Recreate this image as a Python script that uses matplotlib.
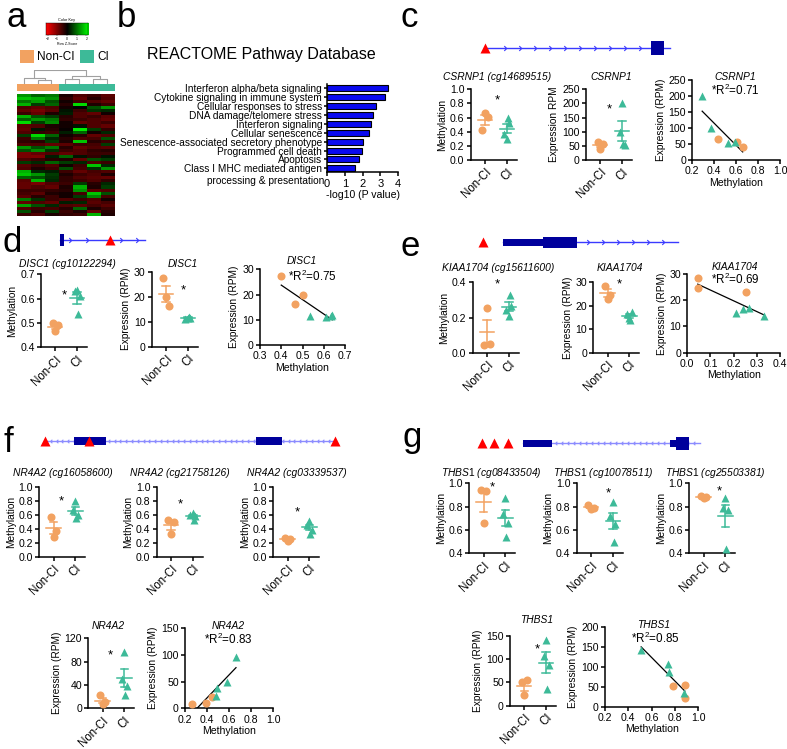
import numpy as np
import matplotlib
matplotlib.use('Agg')
import matplotlib.pyplot as plt
from matplotlib.colors import LinearSegmentedColormap, ListedColormap
from matplotlib.patches import Rectangle
from matplotlib.path import Path

plt.rcParams['font.family'] = ['Liberation Sans', 'DejaVu Sans']
plt.rcParams['mathtext.fontset'] = 'custom'
plt.rcParams['mathtext.rm'] = 'Liberation Sans'
plt.rcParams['mathtext.it'] = 'Liberation Sans:italic'

# ---------------- data ----------------
# panel a: heatmap (row z-scores), 3 Non-CI + 4 CI samples
heat = np.array([
    [1.5, 1.0, 1.2, -0.3, -0.8, -0.6, -0.9],
    [2.0, 1.8, 1.5, -0.5, -1.0, -0.4, -0.8],
    [1.2, 1.6, 0.8, -0.2, -0.6, -0.8, -1.0],
    [1.8, 0.6, 1.0, -0.4, 2.2, -0.3, -0.6],
    [-0.8, -1.0, -0.8, -0.2, 0.0, 0.8, 1.5],
    [-1.0, -1.2, -0.9, 0.2, -0.6, 0.5, 0.4],
    [-0.6, -1.0, -0.3, 0.3, -0.8, -1.0, -0.2],
    [1.8, 0.8, 0.6, -0.4, -0.8, -0.6, -0.9],
    [1.0, 1.5, 1.2, -0.5, -0.6, -0.8, -1.0],
    [2.2, 0.6, 1.4, -0.2, -1.0, -0.8, -0.6],
    [-0.9, -0.8, -0.3, -0.2, 0.2, -0.8, -1.0],
    [-1.0, 0.2, -0.4, -0.1, 2.4, 0.6, -0.5],
    [-0.8, -0.5, -0.6, 0.3, 1.0, -0.2, 0.4],
    [0.6, 2.2, 1.0, -0.2, -0.4, -1.0, -0.8],
    [-0.6, 1.2, 0.4, -0.4, -0.8, -0.7, 0.8],
    [-0.5, -0.4, 0.6, -0.3, 2.0, -0.4, -0.6],
    [-0.8, -0.8, -1.0, -0.9, -0.6, -0.7, 0.6],
    [1.5, 0.8, 1.2, -0.4, -1.0, -0.8, -0.9],
    [0.8, 1.4, 0.5, -0.6, -0.8, -0.5, -0.4],
    [-1.2, -1.0, -0.8, -1.0, -0.8, -0.6, -0.6],
    [-1.2, -1.3, 0.3, 1.0, 0.2, -0.5, 0.2],
    [-0.8, -0.6, -0.4, -0.3, -1.0, 0.8, 0.6],
    [0.6, 0.4, 1.0, 0.6, 0.4, -0.8, -0.6],
    [-0.9, -0.6, -0.8, -0.2, -0.6, 2.0, 0.4],
    [-0.8, -0.3, -0.6, 0.8, -0.7, 0.5, 1.5],
    [1.8, 0.4, 0.3, -0.6, -1.0, -0.7, -0.8],
    [2.0, 1.5, 0.6, -0.3, -0.6, -0.8, -0.3],
    [1.0, 0.8, 0.5, -0.5, -0.8, -0.9, -1.0],
    [-0.9, 1.8, 0.4, -0.5, -0.6, -0.8, -0.5],
    [-1.0, -1.2, -0.8, -0.6, 0.6, -0.4, 0.4],
    [-1.0, -0.8, -1.0, -0.3, 1.8, -0.3, 0.6],
    [-0.6, -0.6, -0.5, -0.4, 1.5, -0.9, -0.8],
    [-0.7, -0.9, -0.3, -0.2, -0.7, 2.0, 0.8],
    [-0.9, -0.4, -0.6, -0.2, 0.6, 1.4, -0.7],
    [1.2, 0.5, -0.6, -0.8, -0.6, -0.8, -0.2],
    [-1.0, -0.8, -1.0, 0.3, 0.4, -0.9, -0.7],
    [1.6, 0.8, 0.4, -0.8, -0.9, -0.7, -0.9],
    [-0.8, -0.6, -0.7, -0.4, 1.0, -0.3, -0.6],
    [0.8, -0.4, 0.6, -0.6, -0.3, -1.0, -0.4],
    [-0.6, -0.8, -0.3, -0.5, -0.6, 1.8, -0.3],
])
sample_group = [0, 0, 0, 1, 1, 1, 1]
# dendrogram: (left, right, height); leaves are sample indices
dendro = ((0, (1, 2, 13), 17), ((3, 4, 15), (5, 6, 15), 25), 40)

# panel b
pathways = ['Interferon alpha/beta signaling', 'Cytokine signaling in immune system',
            'Cellular responses to stress', 'DNA damage/telomere stress',
            'Interferon signaling', 'Cellular senescence',
            'Senescence-associated secretory phenotype', 'Programmed cell death',
            'Apoptosis', 'Class I MHC mediated antigen']
pathway_extra = 'processing & presentation'
neglogp = [3.45, 3.27, 2.74, 2.57, 2.50, 2.38, 2.00, 1.97, 1.78, 1.60]

# panel c: CSRNP1
c_meth_non = [0.43, 0.61, 0.66]
c_meth_ci = [0.29, 0.37, 0.53, 0.59]
c_expr_non = [65, 57, 40]
c_expr_ci = [200, 100, 52, 55]

# panel d: DISC1
d_meth_non = [0.50, 0.49, 0.465]
d_meth_ci = [0.635, 0.63, 0.61, 0.535]
d_expr_non = [27.3, 16.3, 20.0]
d_expr_ci = [11.5, 11.0, 11.6, 12.0]
d_sc_meth_non = [0.40, 0.465, 0.50]
d_sc_meth_ci = [0.535, 0.61, 0.635, 0.64]

# panel e: KIAA1704
e_meth_non = [0.045, 0.048, 0.255]
e_meth_ci = [0.21, 0.24, 0.265, 0.33]
e_expr_non = [28.5, 24.5, 23.0]
e_expr_ci = [15.0, 16.5, 17.2, 14.0]

# panel f: NR4A2
f1_non = [0.57, 0.37, 0.28]
f1_ci = [0.80, 0.67, 0.60, 0.55]
f2_non = [0.52, 0.50, 0.32]
f2_ci = [0.62, 0.60, 0.58, 0.53]
f3_non = [0.27, 0.25, 0.23]
f3_ci = [0.51, 0.45, 0.38, 0.33]
f_expr_non = [22, 10, 8]
f_expr_ci = [96, 50, 39, 23]
f_sc_meth_non = [0.445, 0.388, 0.266]
f_sc_meth_ci = [0.662, 0.578, 0.493, 0.48]

# panel g: THBS1
g1_non = [0.94, 0.93, 0.66]
g1_ci = [0.87, 0.74, 0.66, 0.54]
g2_non = [0.81, 0.79, 0.78]
g2_ci = [0.84, 0.72, 0.65, 0.50]
g3_non = [0.89, 0.88, 0.87]
g3_ci = [0.87, 0.79, 0.77, 0.44]
g_expr_non = [52, 55, 22]
g_expr_ci = [142, 106, 88, 35]
g_sc_meth_non = [0.78, 0.885, 0.885]
g_sc_meth_ci = [0.51, 0.74, 0.75, 0.875]

# gene structures (relative gene coordinates 0-100)
gene_c = dict(line=(0, 100), exons=[(89.6, 96.8, 7)], cpg=[0])
gene_d = dict(line=(0, 100), exons=[(0, 4.7, 6)], cpg=[58.8])
gene_e = dict(line=(10.3, 100), exons=[(10.3, 30.8, 3.5), (30.8, 48.2, 5.5)], cpg=[0])
gene_f = dict(line=(0, 100), exons=[(10.1, 21.1, 4.2), (72.8, 81.6, 4.2)], cpg=[0, 15.3, 100])
gene_g = dict(line=(18.7, 100), exons=[(18.7, 32, 3.5), (86.1, 88.8, 3.5), (88.8, 94.9, 6.5)],
              cpg=[0, 5.8, 12.2])

# ---------------- styling ----------------
ORANGE = '#F2A261'
TEAL = '#3DBA98'
NAVY = '#00009C'
FS_X = 8.3
FS_Y = 7.6
FS_L = 7.3
FS_TI = 7.4

W, H = 787, 749
fig = plt.figure(figsize=(W / 100, H / 100), dpi=100)


def px_axes(x0, y0, x1, y1):
    return fig.add_axes([x0 / W, 1 - y1 / H, (x1 - x0) / W, (y1 - y0) / H])


def style(ax, fx=FS_X, fy=FS_Y):
    for s in ('top', 'right'):
        ax.spines[s].set_visible(False)
    for s in ('left', 'bottom'):
        ax.spines[s].set_linewidth(1.1)
    ax.tick_params(length=3, width=1.1, pad=1.5)
    ax.tick_params(axis='x', labelsize=fx)
    ax.tick_params(axis='y', labelsize=fy)


JIT3 = [-0.12, 0.12, 0.0]
JIT4 = [0.0, -0.11, 0.11, 0.03]


def dotplot(xpx, ytop, ybot, title, tx, ty, ylabel, non, ci, ylim, yticks, fmt, star):
    ax = px_axes(xpx, ytop, xpx + 46, ybot)
    ax.set_xlim(0.35, 2.45)
    ax.set_ylim(ylim)
    for k, (vals, col, mk, jit) in enumerate([(non, ORANGE, 'o', JIT3), (ci, TEAL, '^', JIT4)]):
        vals = np.asarray(vals, float)
        xc = k + 1
        ax.plot(xc + np.asarray(jit[:len(vals)]), vals, ls='none', marker=mk, ms=5.8,
                color=col, mec='none', zorder=3, clip_on=False)
        m = vals.mean()
        se = vals.std(ddof=1) / np.sqrt(len(vals))
        ax.plot([xc - 0.33, xc + 0.33], [m, m], color=col, lw=1.1, zorder=4)
        ax.plot([xc, xc], [m - se, m + se], color=col, lw=1.1, zorder=4)
        for e in (m - se, m + se):
            ax.plot([xc - 0.17, xc + 0.17], [e, e], color=col, lw=1.1, zorder=4)
    style(ax)
    ax.set_xticks([1, 2])
    ax.set_xticklabels(['Non-CI', 'CI'], rotation=45, ha='right', rotation_mode='anchor')
    ax.set_yticks(yticks)
    ax.set_yticklabels([fmt % v for v in yticks])
    ax.set_ylabel(ylabel, fontsize=FS_L, labelpad=2)
    fig.text(tx / W, 1 - ty / H, title, ha='center', va='center', fontsize=FS_TI, style='italic')
    ax.text(star[0], star[1], '*', ha='center', va='center', fontsize=9.5)
    return ax


def scatter(x0, x1, ytop, ybot, title, tx, ty, r2, rx, ry, rha, nm, ne, cm, ce,
            xlim, xticks, ylim, yticks, xlab_pad=1):
    ax = px_axes(x0, ytop, x1, ybot)
    ax.set_xlim(xlim)
    ax.set_ylim(ylim)
    nm, ne, cm, ce = map(lambda v: np.asarray(v, float), (nm, ne, cm, ce))
    am = np.r_[nm, cm]
    ae = np.r_[ne, ce]
    k, b = np.polyfit(am, ae, 1)
    xs = np.array([am.min(), am.max()])
    ax.plot(xs, k * xs + b, color='k', lw=0.9, zorder=2)
    ax.plot(nm, ne, ls='none', marker='o', ms=5.8, color=ORANGE, mec='none', zorder=3, clip_on=False)
    ax.plot(cm, ce, ls='none', marker='^', ms=5.8, color=TEAL, mec='none', zorder=3, clip_on=False)
    style(ax, fx=FS_Y)
    ax.set_xticks(xticks)
    ax.set_xticklabels(['%.1f' % v for v in xticks])
    ax.set_yticks(yticks)
    ax.set_yticklabels(['%d' % v for v in yticks])
    ax.set_xlabel('Methylation', fontsize=FS_L + 0.3, labelpad=xlab_pad)
    ax.set_ylabel('Expression (RPM)', fontsize=FS_L, labelpad=2)
    fig.text(tx / W, 1 - ty / H, title, ha='center', va='center', fontsize=FS_TI, style='italic')
    fig.text(rx / W, 1 - ry / H, r2, ha=rha, va='center', fontsize=8.4)
    return ax


chev_r = Path([(-0.5, 1), (0.5, 0), (-0.5, -1)], [Path.MOVETO, Path.LINETO, Path.LINETO])
chev_l = Path([(0.5, 1), (-0.5, 0), (0.5, -1)], [Path.MOVETO, Path.LINETO, Path.LINETO])


def gene_track(x0, x1, yc, gene, arrows, chev, line_col, ams=3.5):
    ax = px_axes(x0 - 8, yc - 10, x1 + 8, yc + 10)
    pad = 8 / (x1 - x0) * 100
    ax.set_xlim(-pad, 100 + pad)
    ax.set_ylim(-10, 10)
    ax.axis('off')
    ax.plot(gene['line'], [0, 0], color=line_col, lw=1.0, zorder=1)
    ax.plot(arrows, np.zeros(len(arrows)), ls='none', marker=chev, ms=ams, mfc='none',
            mec=line_col, mew=0.8, zorder=1)
    for (s, e, h) in gene['exons']:
        ax.add_patch(Rectangle((s, -h), e - s, 2 * h, facecolor=NAVY, edgecolor='none', zorder=2))
    ax.plot(gene['cpg'], np.zeros(len(gene['cpg'])), ls='none', marker='^', ms=7.5,
            color='red', mec='none', zorder=5, clip_on=False)
    return ax


# ---------------- panel labels ----------------
for lab, x, y in [('a', 6, 27), ('b', 117, 27), ('c', 401, 27), ('d', 3, 252),
                  ('e', 400, 256), ('f', 3, 452), ('g', 402, 447)]:
    fig.text(x / W, 1 - y / H, lab, fontsize=25, va='baseline', ha='left')

# ---------------- panel a ----------------
rg = LinearSegmentedColormap.from_list('rg', ['#FF0000', '#000000', '#00FF00'])
axk = px_axes(45.7, 22.7, 88.3, 35)
axk.imshow(np.linspace(-2, 2, 100)[None, :], aspect='auto', extent=(-2.2, 2.2, 0, 1), cmap=rg)
axk.set_xlim(-2.2, 2.2)
axk.set_yticks([])
axk.set_xticks([-2, -1, 0, 1, 2])
axk.tick_params(labelsize=2.5, length=1, width=0.3, pad=0.5)
for s in axk.spines.values():
    s.set_linewidth(0.3)
axk.set_title('Color Key', fontsize=2.8, pad=1)
axk.set_xlabel('Row Z-Score', fontsize=2.5, labelpad=0.5)

fig.patches.append(Rectangle((20 / W, 1 - 63 / H), 13.5 / W, 13.5 / H, transform=fig.transFigure,
                             facecolor=ORANGE, edgecolor='none'))
fig.text(37 / W, 1 - 56.5 / H, 'Non-CI', fontsize=8.5, va='center')
fig.patches.append(Rectangle((80 / W, 1 - 63 / H), 13.5 / W, 13.5 / H, transform=fig.transFigure,
                             facecolor=TEAL, edgecolor='none'))
fig.text(97.5 / W, 1 - 56.5 / H, 'CI', fontsize=8.5, va='center')

axd = px_axes(16.7, 70, 114, 84.3)
axd.set_xlim(-0.5, 6.5)
axd.set_ylim(0, 41)
axd.axis('off')


def draw_node(node):
    if isinstance(node, int):
        return float(node), 0.0
    l, r, h = node
    xl, hl = draw_node(l)
    xr, hr = draw_node(r)
    axd.plot([xl, xl, xr, xr], [hl, h, h, hr], color='#A0A0A0', lw=0.8)
    return (xl + xr) / 2, h


draw_node(dendro)

axg = px_axes(16.7, 84.3, 114, 91)
axg.imshow(np.array(sample_group)[None, :], aspect='auto', cmap=ListedColormap([ORANGE, TEAL]),
           interpolation='nearest')
axg.axis('off')

axh = px_axes(16.7, 94.3, 114, 216)
axh.imshow(heat, aspect='auto', interpolation='nearest', vmin=-2.6, vmax=2.6, cmap=rg)
axh.axis('off')

# ---------------- panel b ----------------
fig.text(261 / W, 1 - 55 / H, 'REACTOME Pathway Database', fontsize=11.5, ha='center', va='center')
axb = px_axes(327, 83.5, 398, 172.3)
yb = np.arange(len(pathways))
axb.barh(yb, neglogp, height=0.68, color='#0A0AF0', edgecolor='black', lw=0.8)
axb.set_ylim(9.45, -0.55)
axb.set_xlim(0, 4)
style(axb, fx=8, fy=7.3)
axb.set_yticks(yb)
axb.set_yticklabels(pathways)
axb.tick_params(axis='y', length=2.5, pad=1)
axb.set_xticks(range(5))
axb.set_xlabel('-log10 (P value)', fontsize=7.6, labelpad=1)
fig.text(324 / W, 1 - 181 / H, pathway_extra, fontsize=7.3, ha='right', va='center')

# ---------------- panel c ----------------
gene_track(485, 670, 48, gene_c, np.arange(10.8, 90, 8.1), chev_r, '#3A3AFF')
dotplot(470.7, 89.3, 160, 'CSRNP1 (cg14689515)', 496.7, 77, 'Methylation',
        c_meth_non, c_meth_ci, (0, 1), [0, 0.2, 0.4, 0.6, 0.8, 1.0], '%.1f', (1.56, 0.84))
dotplot(586, 89.3, 160, 'CSRNP1', 611.7, 77, 'Expression RPM',
        c_expr_non, c_expr_ci, (0, 250), [0, 50, 100, 150, 200, 250], '%d', (1.42, 178))
scatter(692.3, 780, 80, 160, 'CSRNP1', 735, 77, '*R$^2$=0.71', 735, 90.5, 'center',
        c_meth_non, c_expr_non, c_meth_ci, c_expr_ci,
        (0.2, 1.0), [0.2, 0.4, 0.6, 0.8, 1.0], (0, 250), [0, 50, 100, 150, 200, 250])

# ---------------- panel d ----------------
gene_track(60, 145, 240, gene_d, [12, 32, 72, 90], chev_r, '#3A3AFF')
dotplot(41, 274.3, 347.3, 'DISC1 (cg10122294)', 67, 264, 'Methylation',
        d_meth_non, d_meth_ci, (0.4, 0.7), [0.4, 0.5, 0.6, 0.7], '%.1f', (1.43, 0.615))
dotplot(151.7, 271.7, 346.7, 'DISC1', 183, 264, 'Expression (RPM)',
        d_expr_non, d_expr_ci, (0, 30), [0, 10, 20, 30], '%d', (1.78, 22.5))
scatter(260, 345, 269.3, 345, 'DISC1', 301.7, 260.7, '*R$^2$=0.75', 288, 276.5, 'left',
        d_sc_meth_non, d_expr_non, d_sc_meth_ci, d_expr_ci,
        (0.3, 0.7), [0.3, 0.4, 0.5, 0.6, 0.7], (0, 30), [0, 10, 20, 30])

# ---------------- panel e ----------------
gene_track(483, 678, 242, gene_e, np.r_[[38, 43], np.arange(54, 99, 7.7)], chev_r, '#3A3AFF')
dotplot(472.7, 282.3, 352.7, 'KIAA1704 (cg15611600)', 498, 268, 'Methylation',
        e_meth_non, e_meth_ci, (0, 0.4), [0, 0.2, 0.4], '%.1f', (1.49, 0.39))
dotplot(593.3, 282.3, 352.7, 'KIAA1704', 620, 268, 'Expression (RPM)',
        e_expr_non, e_expr_ci, (0, 30), [0, 10, 20, 30], '%d', (1.54, 29.2))
scatter(687.3, 780, 274, 352.7, 'KIAA1704', 735, 266.7, '*R$^2$=0.69', 735, 279, 'center',
        e_meth_non, e_expr_non, e_meth_ci, e_expr_ci,
        (0.0, 0.4), [0.0, 0.1, 0.2, 0.3, 0.4], (0, 30), [0, 10, 20, 30])

# ---------------- panel f ----------------
gene_track(45, 335, 441, gene_f, np.arange(2, 99, 2.0), chev_l, '#8C8CFF', ams=2.5)
dotplot(39.3, 486.7, 556.7, 'NR4A2 (cg16058600)', 63.3, 473.3, 'Methylation',
        f1_non, f1_ci, (0, 1), [0, 0.2, 0.4, 0.6, 0.8, 1.0], '%.1f', (1.34, 0.79))
dotplot(156.7, 486.7, 556.7, 'NR4A2 (cg21758126)', 180, 473.3, 'Methylation',
        f2_non, f2_ci, (0, 1), [0, 0.2, 0.4, 0.6, 0.8, 1.0], '%.1f', (1.43, 0.75))
dotplot(273.3, 486.7, 556.7, 'NR4A2 (cg03339537)', 296.7, 473.3, 'Methylation',
        f3_non, f3_ci, (0, 1), [0, 0.2, 0.4, 0.6, 0.8, 1.0], '%.1f', (1.43, 0.63))
dotplot(88.3, 638.3, 708.3, 'NR4A2', 108.3, 626, 'Expression (RPM)',
        f_expr_non, f_expr_ci, (0, 120), [0, 40, 80, 120], '%d', (1.37, 91))
scatter(185, 273.3, 628.3, 708.3, 'NR4A2', 228.3, 626, '*R$^2$=0.83', 228.3, 639.5, 'center',
        f_sc_meth_non, f_expr_non, f_sc_meth_ci, f_expr_ci,
        (0.2, 1.0), [0.2, 0.4, 0.6, 0.8, 1.0], (0, 150), [0, 50, 100, 150])

# ---------------- panel g ----------------
gene_track(481.7, 700, 443, gene_g, np.arange(34, 99, 2.75), chev_l, '#8C8CFF', ams=2.5)
dotplot(469.3, 483.3, 553.3, r'$\mathit{THBS1}$ (cg08433504)', 491.7, 473.3, 'Methylation',
        g1_non, g1_ci, (0.4, 1.0), [0.4, 0.6, 0.8, 1.0], '%.1f', (1.42, 0.965))
dotplot(576.7, 483.3, 553.3, r'$\mathit{THBS1}$ (cg10078511)', 603.3, 473.3, 'Methylation',
        g2_non, g2_ci, (0.4, 1.0), [0.4, 0.6, 0.8, 1.0], '%.1f', (1.77, 0.91))
dotplot(689.3, 483.3, 553.3, r'$\mathit{THBS1}$ (cg25503381)', 715, 473.3, 'Methylation',
        g3_non, g3_ci, (0.4, 1.0), [0.4, 0.6, 0.8, 1.0], '%.1f', (1.73, 0.93))
dotplot(510, 636, 705.7, 'THBS1', 536.7, 620, 'Expression (RPM)',
        g_expr_non, g_expr_ci, (0, 150), [0, 50, 100, 150], '%d', (1.59, 121))
scatter(605, 698.3, 626.7, 706.7, 'THBS1', 653.3, 625, '*R$^2$=0.85', 655, 638.5, 'center',
        g_sc_meth_non, g_expr_non, g_sc_meth_ci, g_expr_ci,
        (0.2, 1.0), [0.2, 0.4, 0.6, 0.8, 1.0], (0, 200), [0, 50, 100, 150, 200])

fig.savefig('out.png', dpi=100)
